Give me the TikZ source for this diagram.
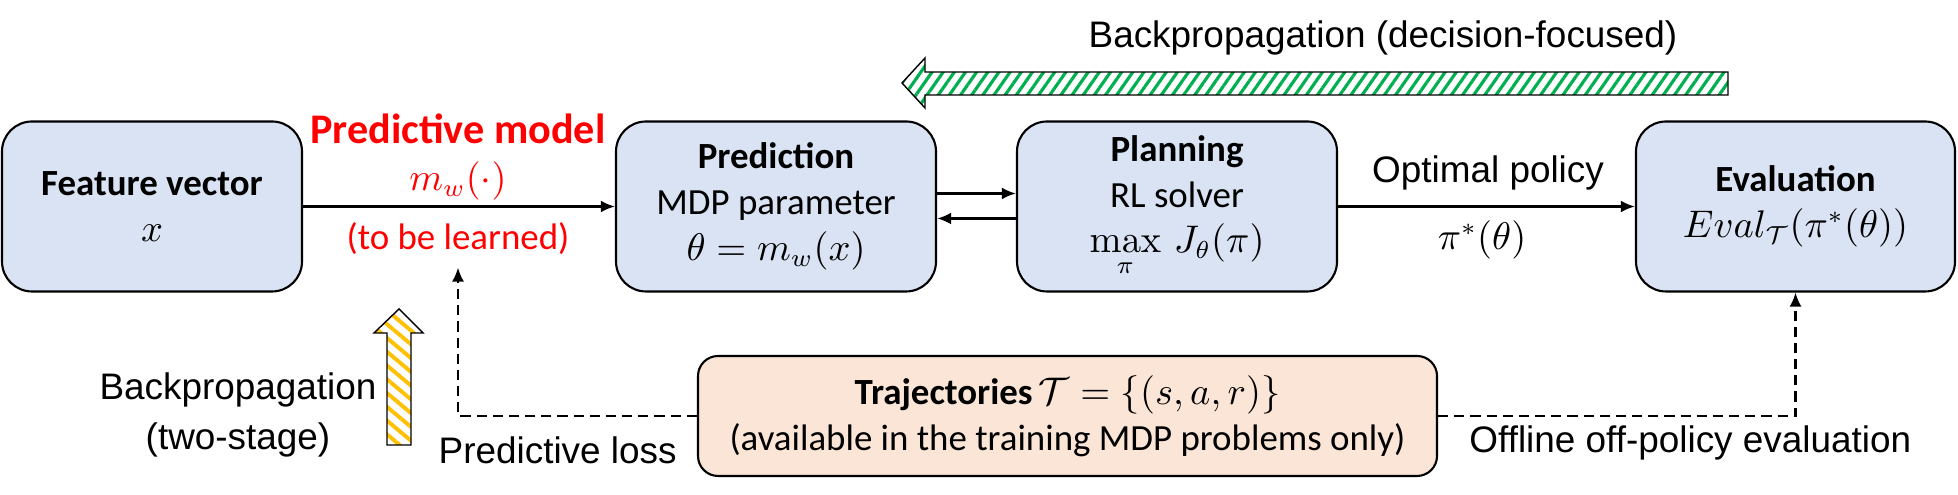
\documentclass[tikz,border=0pt]{standalone}
\usepackage[no-math]{fontspec}
\setmainfont{Carlito}
\newfontfamily\lblfont{Liberation Sans}
\usetikzlibrary{arrows.meta, positioning, patterns.meta}

\definecolor{boxblue}{HTML}{DAE3F3}
\definecolor{trajorange}{HTML}{FBE5D6}
\definecolor{hatchgreen}{HTML}{00B050}
\definecolor{hatchyellow}{HTML}{FFC000}

\begin{document}
\begin{tikzpicture}[
    font=\fontsize{10.5}{13}\selectfont,
    >={Latex[length=4pt,width=3.4pt]},
    block/.style={draw, line width=0.6pt, rounded corners=0.3cm, fill=boxblue,
                  minimum height=1.7cm, inner sep=0pt, align=center},
    flow/.style={->, line width=0.7pt},
    lossflow/.style={->, line width=0.65pt, dash pattern=on 2.9pt off 1.7pt},
    lbl/.style={font=\lblfont\fontsize{10.5}{14}\selectfont, align=center},
    redlbl/.style={text=red, align=center},
    bigarrow/.style={draw, line width=0.4pt, preaction={fill=white}}
]
\useasboundingbox (0,0) rectangle (19.58,4.95);

% ── Pipeline boxes ──────────────────────────────────────────
\node[block, minimum width=3.00cm] (feat) at (1.52,2.885)  {\textbf{Feature vector}\\$x$};
\node[block, minimum width=3.20cm] (pred) at (7.76,2.885)  {\textbf{Prediction}\\MDP parameter\\$\theta = m_w(x)$};
\node[block, minimum width=3.20cm] (plan) at (11.77,2.885) {\textbf{Planning}\\RL solver\\$\max\limits_{\pi}\, J_\theta(\pi)$};
\node[block, minimum width=3.19cm] (eval) at (17.955,2.885){\textbf{Evaluation}\\$Eval_{\mathcal{T}}\bigl(\pi^*(\theta)\bigr)$};

% ── Trajectory data ─────────────────────────────────────────
\node[block, fill=trajorange, rounded corners=0.2cm, minimum width=7.39cm, minimum height=1.2cm]
    (traj) at (10.675,0.79) {\textbf{Trajectories}\,$\mathcal{T} = \{(s,a,r)\}$\\(available in the training MDP problems only)};

% ── Forward connectors ──────────────────────────────────────
\draw[flow] (feat) -- (pred);
\draw[flow] ([yshift=0.13cm]pred.east) -- ([yshift=0.13cm]plan.west);
\draw[flow] ([yshift=-0.12cm]plan.west) -- ([yshift=-0.12cm]pred.east);
\draw[flow] (plan) -- (eval);

% red model labels
\node[redlbl, font=\bfseries\fontsize{12}{14}\selectfont] (pmodel) at (4.58,3.66) {Predictive model};
\node[redlbl] (mw)    at (4.58,3.14) {$m_w(\cdot)$};
\node[redlbl] (learn) at (4.58,2.56) {(to be learned)};

\node[lbl] (optpol) at (14.88,3.22) {Optimal policy};
\node      (pistar) at (14.82,2.55) {$\pi^*(\theta)$};

% ── Dashed losses ───────────────────────────────────────────
\draw[lossflow] (traj.west) -| (learn.south);
\draw[lossflow] (traj.east) -| (eval.south);
\node[lbl, anchor=east] (ploss)   at (6.89,0.45)  {Predictive loss};
\node[lbl, anchor=west] (offeval) at (14.57,0.52) {Offline off-policy evaluation};

% ── Backpropagation arrows (hatched) ────────────────────────
\path[bigarrow, pattern={Lines[angle=55,distance=2.6pt,line width=0.9pt]}, pattern color=hatchgreen]
    (9.02,4.12) -- (9.25,4.37) -- (9.25,4.23) -- (17.28,4.23) -- (17.28,4.00)
    -- (9.25,4.00) -- (9.25,3.87) -- cycle;
\node[lbl, anchor=base] (bpdec) at (13.83,4.47) {Backpropagation (decision-focused)};

\path[bigarrow, pattern={Lines[angle=-40,distance=3pt,line width=1.1pt]}, pattern color=hatchyellow]
    (3.99,1.86) -- (4.23,1.62) -- (4.11,1.62) -- (4.11,0.50) -- (3.87,0.50)
    -- (3.87,1.62) -- (3.74,1.62) -- cycle;
\node[lbl] (bptwo) at (2.38,0.80) {Backpropagation\\(two-stage)};

\end{tikzpicture}
\end{document}
